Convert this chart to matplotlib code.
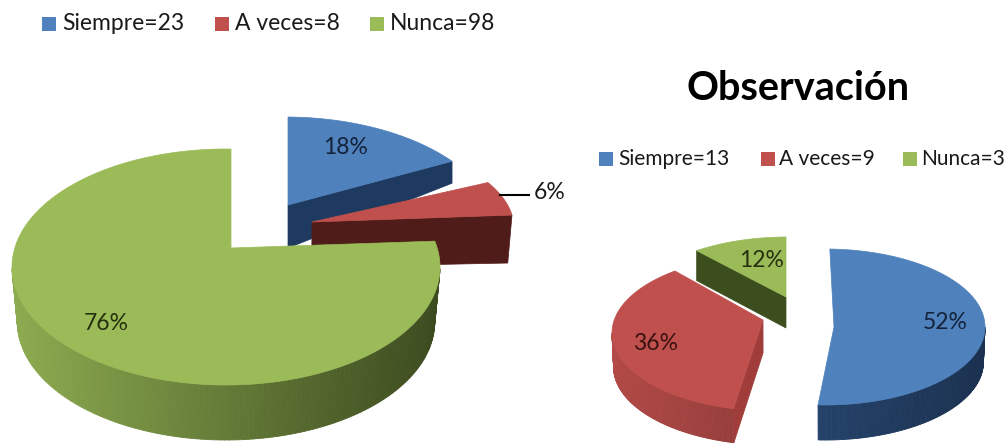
import matplotlib.pyplot as plt
import numpy as np
from matplotlib.collections import PolyCollection
from matplotlib.colors import to_rgb
from matplotlib.patches import Polygon, Rectangle

plt.rcParams['font.family'] = ['Lato', 'DejaVu Sans']

categories = ['Siempre', 'A veces', 'Nunca']
counts_left = [23, 8, 98]
counts_right = [13, 9, 3]
title_right = 'Observación'

top_colors = ['#4f81bd', '#c0504d', '#9bbb59']
wall_colors = [('#2c5180', '#1b3150'), ('#b24a47', '#6b2927'), ('#8dab50', '#3c4b1f')]
label_colors = ['#14233a', '#3a1210', '#26300f']

# every slice is placed by hand because the original is a perspective view
left_geo = [
    dict(c=(285, 235), r=(214, 118), apex=(288, 205), depth=(43, 22), shrink=1.0, rot=0, cut=2, cut_color='#1f3a60'),
    dict(c=(300, 228), r=(214, 95), apex=(312, 222), depth=(45, 48), shrink=0.98, rot=1, cut=2, cut_color='#4f1c1a'),
    dict(c=(226, 267), r=(214, 118), apex=(231, 248), depth=(55, 55), shrink=0.975, rot=0, cut=0, cut_color=None),
]
right_geo = [
    dict(c=(825, 327), r=(160, 78), apex=(834, 327), depth=(35, 35), shrink=0.99, rot=1.5, cut=0, cut_color=None),
    dict(c=(772, 333), r=(160, 78), apex=(763, 320), depth=(33, 34), shrink=0.99, rot=-2, cut=1, cut_color='#a03d3a'),
    dict(c=(787, 315), r=(160, 78), apex=(786, 297), depth=(31, 30), shrink=1.0, rot=0, cut=1, cut_color='#3d4e1e'),
]
left_label_pos = [(346, 147), (550, 192), (106, 323)]
right_label_pos = [(945, 322), (656, 343), (762, 260)]


def rim_points(angles, geo):
    # cast rays from the apex to the unit circle of the flattened pie
    ax0 = (geo['apex'][0] - geo['c'][0]) / geo['r'][0]
    ay0 = (geo['c'][1] - geo['apex'][1]) / geo['r'][1]
    rad = np.radians(angles)
    dx, dy = np.cos(rad), np.sin(rad)
    pd = ax0 * dx + ay0 * dy
    s = -pd + np.sqrt(pd ** 2 + 1 - ax0 ** 2 - ay0 ** 2)
    return ax0 + s * dx, ay0 + s * dy


def draw_wedge(ax, a1, a2, geo, i):
    a1 += geo['rot']
    a2 += geo['rot']
    cx, cy = geo['c']
    rx, ry = geo['r']
    near, far = geo['depth']
    u, v = rim_points(np.linspace(a1, a2, 240), geo)
    x = cx + rx * u
    y = cy - ry * v
    bx = cx + (x - cx) * geo['shrink']
    by = y + far

    # outer wall, lighter on the left and darker on the right
    quads, shades = [], []
    c0, c1 = np.array(to_rgb(wall_colors[i][0])), np.array(to_rgb(wall_colors[i][1]))
    for k in range(len(x) - 1):
        if v[k] <= 0 and v[k + 1] <= 0:
            quads.append([(x[k], y[k]), (x[k + 1], y[k + 1]), (bx[k + 1], by[k + 1]), (bx[k], by[k])])
            f = np.clip((x[k] - (cx - rx)) / (2 * rx), 0, 1)
            shades.append(c0 + (c1 - c0) * f)
    if quads:
        ax.add_collection(PolyCollection(quads, facecolors=shades, edgecolors=shades, linewidths=0.6))

    # flat cut face
    if geo['cut'] in (1, 2):
        k = 0 if geo['cut'] == 1 else -1
        ap_x, ap_y = geo['apex']
        apb_x = cx + (ap_x - cx) * geo['shrink']
        face = [(ap_x, ap_y), (x[k], y[k]), (bx[k], by[k]), (apb_x, ap_y + near)]
        ax.add_patch(Polygon(face, closed=True, facecolor=geo['cut_color'], edgecolor=geo['cut_color'], linewidth=0.5))

    # top surface
    top = [geo['apex']] + list(zip(x, y))
    ax.add_patch(Polygon(top, closed=True, facecolor=top_colors[i], edgecolor=top_colors[i], linewidth=0.5))


def draw_pie(ax, counts, geos):
    shares = np.array(counts) / sum(counts)
    edges = 90 - 360 * np.concatenate([[0], np.cumsum(shares)])
    for i in range(len(counts)):
        draw_wedge(ax, edges[i], edges[i + 1], geos[i], i)
    return shares


def draw_legend(ax, counts, boxes, texts, y, size):
    for i in range(len(counts)):
        ax.add_patch(Rectangle((boxes[i], y - 7), 14, 14, facecolor=top_colors[i], edgecolor='none'))
        ax.text(texts[i], y, '%s=%d' % (categories[i], counts[i]), fontsize=size, color='#1a1a1a',
                ha='left', va='center')


fig = plt.figure(figsize=(10.08, 4.44), dpi=100)
ax = fig.add_axes([0, 0, 1, 1])
ax.set_xlim(0, 1008)
ax.set_ylim(444, 0)
ax.axis('off')

shares_left = draw_pie(ax, counts_left, left_geo)
shares_right = draw_pie(ax, counts_right, right_geo)

for i, pos in enumerate(left_label_pos):
    color = '#1a1a1a' if i == 1 else label_colors[i]
    ax.text(pos[0], pos[1], '%d%%' % round(shares_left[i] * 100), fontsize=16.5, color=color, ha='center', va='center')
for i, pos in enumerate(right_label_pos):
    ax.text(pos[0], pos[1], '%d%%' % round(shares_right[i] * 100), fontsize=16.5, color=label_colors[i], ha='center', va='center')
ax.plot([500, 529], [195, 195], color='black', lw=1.5)

draw_legend(ax, counts_left, [42, 215, 370], [62, 235, 390], 24, 16.5)
draw_legend(ax, counts_right, [599, 761, 903], [618, 779, 921], 159, 15)
ax.text(798, 88, title_right, fontsize=28.5, fontweight='bold', color='black', ha='center', va='center')

fig.savefig('out.png', dpi=100)
